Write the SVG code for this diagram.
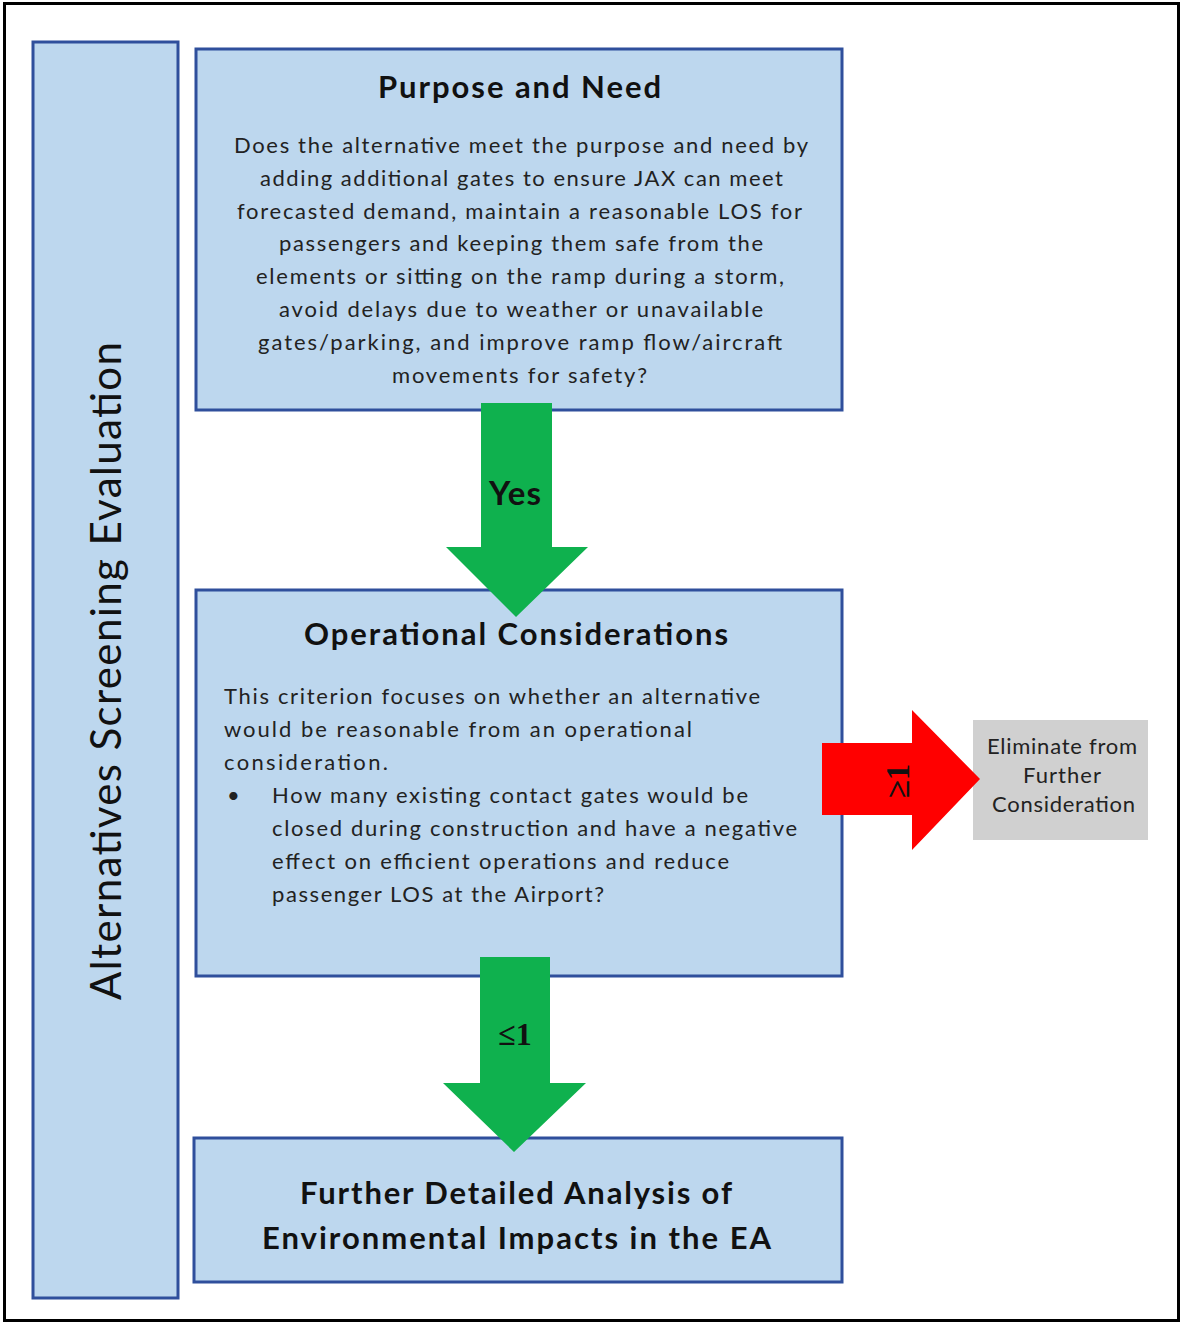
<svg xmlns="http://www.w3.org/2000/svg" width="1182" height="1324" viewBox="0 0 1182 1324">
<style>
.box{fill:#bdd7ee;stroke:#2f4f9c;stroke-width:3}
.title{font-family:Lato,"Liberation Sans",sans-serif;font-weight:bold;font-size:31px;fill:#111;text-anchor:middle}
.body{font-family:Lato,"Liberation Sans",sans-serif;font-size:22px;fill:#222}
.mid{text-anchor:middle}
.green{fill:#0fb14e}
.red{fill:#ff0000}
</style>
<rect x="0" y="0" width="1182" height="1324" fill="#ffffff"/>
<rect x="4.5" y="3.5" width="1174" height="1317" fill="none" stroke="#000" stroke-width="3"/>

<g id="side">
<rect class="box" x="33" y="42" width="145" height="1256"/>
<text transform="translate(121,671) rotate(-90)" font-family="Lato,'Liberation Sans',sans-serif" font-size="42" fill="#111" text-anchor="middle" textLength="658" lengthAdjust="spacing">Alternatives Screening Evaluation</text>
</g>

<g id="purpose">
<rect class="box" x="196" y="49" width="646" height="361"/>
<text class="title" x="519.5" y="98" textLength="283" lengthAdjust="spacing">Purpose and Need</text>
<text class="body mid" x="521" y="153" textLength="574" lengthAdjust="spacing">Does the alternative meet the purpose and need by</text>
<text class="body mid" x="521.5" y="186" textLength="523" lengthAdjust="spacing">adding additional gates to ensure JAX can meet</text>
<text class="body mid" x="519.5" y="219" textLength="565" lengthAdjust="spacing">forecasted demand, maintain a reasonable LOS for</text>
<text class="body mid" x="521" y="251" textLength="484" lengthAdjust="spacing">passengers and keeping them safe from the</text>
<text class="body mid" x="520" y="284" textLength="528" lengthAdjust="spacing">elements or sitting on the ramp during a storm,</text>
<text class="body mid" x="521" y="317" textLength="484" lengthAdjust="spacing">avoid delays due to weather or unavailable</text>
<text class="body mid" x="520" y="350" textLength="524" lengthAdjust="spacing">gates/parking, and improve ramp flow/aircraft</text>
<text class="body mid" x="519.5" y="383" textLength="255" lengthAdjust="spacing">movements for safety?</text>
</g>

<g id="operational">
<rect class="box" x="196" y="590" width="646" height="386"/>
<text class="title" x="516" y="645" textLength="424" lengthAdjust="spacing">Operational Considerations</text>
<text class="body" x="224" y="704" textLength="536" lengthAdjust="spacing">This criterion focuses on whether an alternative</text>
<text class="body" x="224" y="737" textLength="468" lengthAdjust="spacing">would be reasonable from an operational</text>
<text class="body" x="224" y="770" textLength="164" lengthAdjust="spacing">consideration.</text>
<text class="body" x="227" y="803">•</text>
<text class="body" x="272" y="803" textLength="476" lengthAdjust="spacing">How many existing contact gates would be</text>
<text class="body" x="272" y="836" textLength="525" lengthAdjust="spacing">closed during construction and have a negative</text>
<text class="body" x="272" y="869" textLength="457" lengthAdjust="spacing">effect on efficient operations and reduce</text>
<text class="body" x="272" y="902" textLength="332" lengthAdjust="spacing">passenger LOS at the Airport?</text>
</g>

<g id="further">
<rect class="box" x="194" y="1138" width="648" height="144"/>
<text class="title" x="516" y="1204" textLength="432" lengthAdjust="spacing">Further Detailed Analysis of</text>
<text class="title" x="516.5" y="1249" textLength="509" lengthAdjust="spacing">Environmental Impacts in the EA</text>
</g>

<g id="eliminate">
<rect x="973" y="720" width="175" height="120" fill="#d0d0d0"/>
<text class="body mid" x="1062" y="754" font-size="20" textLength="150" lengthAdjust="spacing">Eliminate from</text>
<text class="body mid" x="1062" y="783" font-size="20" textLength="78" lengthAdjust="spacing">Further</text>
<text class="body mid" x="1063.5" y="812" font-size="20" textLength="143" lengthAdjust="spacing">Consideration</text>
</g>

<g id="connectors">
<polygon class="green" points="481,403 552,403 552,547 588,547 516,617 446,547 481,547"/>
<text x="515" y="505" font-family="Lato,'Liberation Sans',sans-serif" font-weight="bold" font-size="33" fill="#111" text-anchor="middle" textLength="52" lengthAdjust="spacing">Yes</text>
<polygon class="green" points="480,957 550,957 550,1083 586,1083 514,1152 443,1083 480,1083"/>
<text x="515" y="1045" font-family="'Liberation Serif',serif" font-weight="bold" font-size="32" fill="#111" text-anchor="middle">≤1</text>
<polygon class="red" points="822,743 912,743 912,710 980,779 912,850 912,815 822,815"/>
<text transform="translate(909,781) rotate(-90)" font-family="'Liberation Serif',serif" font-weight="bold" font-size="33" fill="#111" text-anchor="middle">≥1</text>
</g>
</svg>
